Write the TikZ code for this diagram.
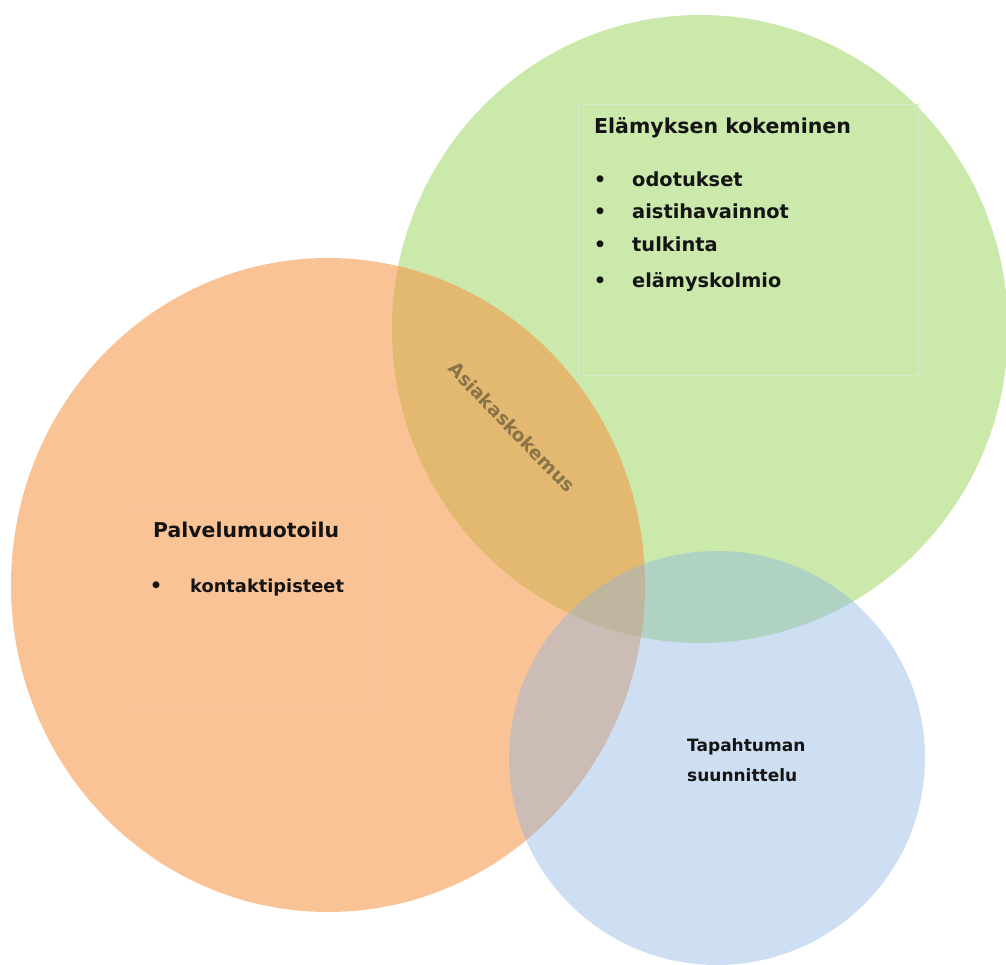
\documentclass[tikz,border=0pt]{standalone}
\usepackage{fontspec}
\setmainfont{DejaVu Sans}
\definecolor{expgreen}{HTML}{92D050}
\definecolor{svcorange}{HTML}{F79646}
\definecolor{evtblue}{HTML}{8DB3E2}
\definecolor{greenframe}{HTML}{D9E8C9}
\definecolor{orangeframe}{HTML}{F9C69B}
\definecolor{overlaptext}{HTML}{8A7349}
\definecolor{ink}{HTML}{141414}
\tikzset{
  setlabel/.style={anchor=base west, inner sep=0pt, text=ink,
    font=\bfseries\fontsize{#1}{#1}\selectfont},
  bulletmark/.style={anchor=base, inner sep=0pt, text=ink,
    font=\bfseries\fontsize{19.5}{19.5}\selectfont},
  textframe/.style={draw=#1, line width=1pt}
}
\begin{document}
\begin{tikzpicture}[x=1pt,y=-1pt]
\useasboundingbox (0,0) rectangle (1006,965);

% the three sets, green under orange under blue
\fill[expgreen, fill opacity=0.48] (700,329) ellipse [x radius=308pt, y radius=314pt];
\fill[svcorange, fill opacity=0.57] (328,585) ellipse [x radius=317pt, y radius=327pt];
\fill[evtblue, fill opacity=0.42] (717,758) ellipse [x radius=208pt, y radius=207pt];

% faint text frames
\draw[textframe=greenframe] (578,105) rectangle (918,375);
\draw[textframe=orangeframe] (137,510) rectangle (382,710);

% Elämyksen kokeminen
\node[setlabel=20.5] (exptitle) at (594,134) {Elämyksen kokeminen};
\node[bulletmark] (b1) at (600,187) {•};
\node[setlabel=19.4] (e1) at (632,187) {odotukset};
\node[bulletmark] (b2) at (600,219) {•};
\node[setlabel=19.4] (e2) at (632,219) {aistihavainnot};
\node[bulletmark] (b3) at (600,252) {•};
\node[setlabel=19.4] (e3) at (632,252) {tulkinta};
\node[bulletmark] (b4) at (600,288) {•};
\node[setlabel=19.3] (e4) at (632,288) {elämyskolmio};

% Palvelumuotoilu
\node[setlabel=20.4] (svctitle) at (153,537) {Palvelumuotoilu};
\node[bulletmark] (b5) at (156,592) {•};
\node[setlabel=17.8] (s1) at (190,592) {kontaktipisteet};

% Tapahtuman suunnittelu
\node[setlabel=17] (evt1) at (687,751) {Tapahtuman};
\node[setlabel=17] (evt2) at (687,781) {suunnittelu};

% overlap of experience and service design
\node[inner sep=0pt, text=overlaptext, rotate=-46,
      font=\bfseries\fontsize{18.5}{18.5}\selectfont] (overlap) at (512,427) {Asiakaskokemus};
\end{tikzpicture}
\end{document}
